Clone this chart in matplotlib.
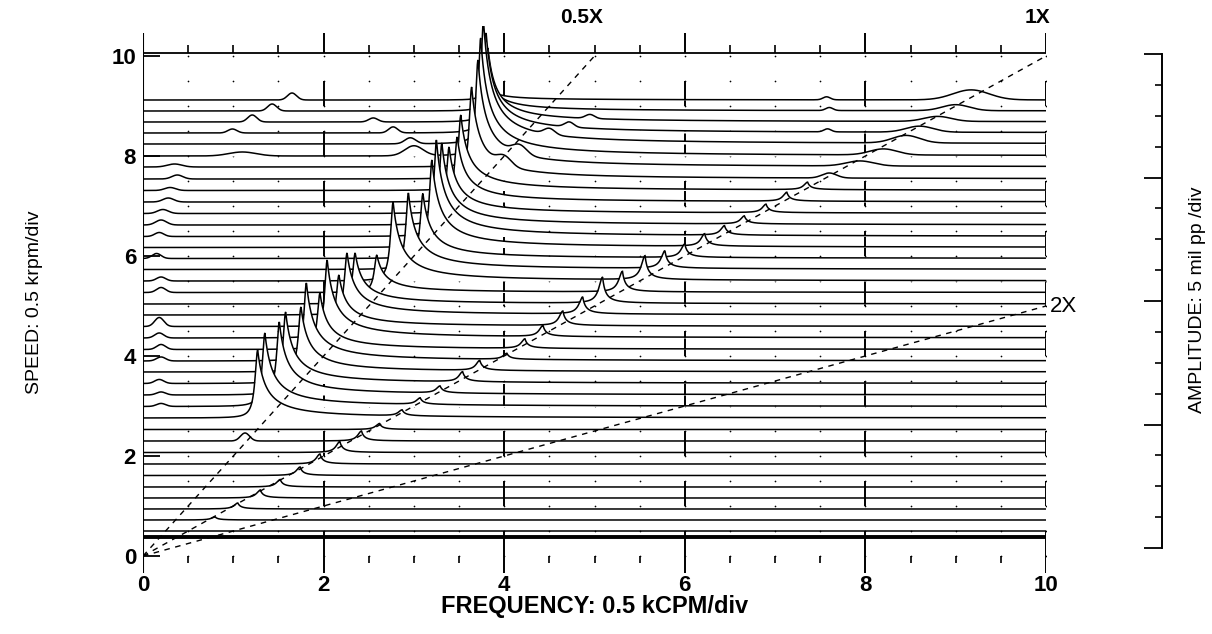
import numpy as np
import matplotlib
matplotlib.use("Agg")
import matplotlib.pyplot as plt

plt.rcParams['font.family'] = ['Liberation Sans', 'DejaVu Sans']

# Shaft speed of each spectrum (baseline position, 0.5 krpm/div units)
speeds = [0.38, 0.50, 0.72, 0.94, 1.16, 1.38, 1.61, 1.84, 2.07, 2.30,
          2.53, 2.76, 2.99, 3.22, 3.45, 3.68, 3.90, 4.13, 4.36, 4.59,
          4.82, 5.04, 5.27, 5.50, 5.73, 5.95, 6.17, 6.39, 6.62, 6.85,
          7.08, 7.31, 7.54, 7.78, 8.00, 8.24, 8.46, 8.68, 8.90, 9.12]

# Sub-synchronous (whirl/whip) component per spectrum
whirl_speed = [2.76, 2.99, 3.22, 3.45, 3.68, 3.90, 4.13, 4.36, 4.59, 4.82,
               5.04, 5.27, 5.50, 5.73, 5.95, 6.17, 6.39, 6.62, 6.85, 7.08,
               7.31, 7.54, 7.78, 8.00, 8.24, 8.46, 8.68, 8.90, 9.12]
whirl_freq = [1.27, 1.35, 1.51, 1.58, 1.75, 1.81, 1.96, 2.04, 2.17, 2.26,
              2.35, 2.59, 2.77, 2.94, 3.10, 3.20, 3.25, 3.31, 3.39, 3.48,
              3.52, 3.64, 3.71, 3.74, 3.77, 3.80, 3.82, 3.80, 3.78]
whirl_amp = [1.36, 1.47, 1.46, 1.43, 1.30, 1.56, 1.13, 1.56, 1.03, 1.24,
             1.02, 0.75, 1.58, 1.53, 1.30, 1.75, 1.93, 1.64, 1.33, 1.30,
             1.51, 1.84, 2.14, 2.36, 2.48, 2.00, 1.48, 0.86, 0.34]

# Synchronous (1X) component per spectrum
onex_speed = [0.72, 0.94, 1.16, 1.38, 1.61, 1.84, 2.07, 2.30, 2.53, 2.76,
              2.99, 3.22, 3.45, 3.68, 3.90, 4.13, 4.36, 4.59, 4.82, 5.04,
              5.27, 5.50, 5.73, 5.95, 6.17, 6.39, 6.62, 6.85, 7.08, 7.31,
              7.54, 7.78, 8.00, 8.24, 8.46, 8.68, 8.90, 9.12]
onex_freq = [0.80, 1.05, 1.30, 1.52, 1.74, 1.96, 2.18, 2.42, 2.62, 2.87,
             3.07, 3.29, 3.54, 3.73, 4.03, 4.23, 4.43, 4.65, 4.87, 5.09,
             5.31, 5.56, 5.78, 6.00, 6.22, 6.44, 6.66, 6.90, 7.13, 7.36,
             7.60, 7.94, 8.20, 8.45, 8.60, 8.80, 9.00, 9.17]
onex_amp = [0.06, 0.12, 0.16, 0.15, 0.17, 0.20, 0.22, 0.20, 0.12, 0.12,
            0.13, 0.14, 0.20, 0.20, 0.12, 0.19, 0.22, 0.29, 0.34, 0.52,
            0.41, 0.48, 0.35, 0.27, 0.25, 0.19, 0.16, 0.17, 0.18, 0.15,
            0.10, 0.10, 0.12, 0.15, 0.12, 0.10, 0.12, 0.20]
onex_width = [0.05, 0.05, 0.05, 0.05, 0.05, 0.05, 0.05, 0.05, 0.05, 0.05,
              0.05, 0.05, 0.05, 0.05, 0.05, 0.05, 0.05, 0.05, 0.05, 0.05,
              0.05, 0.05, 0.05, 0.05, 0.05, 0.05, 0.05, 0.05, 0.05, 0.05,
              0.08, 0.15, 0.15, 0.15, 0.15, 0.15, 0.15, 0.20]

# Other small spectral components
minor_speed = [9.12, 8.90, 8.68, 8.46, 8.68, 8.46, 8.24, 8.00,
               8.68, 8.46, 8.24, 7.78, 7.54, 9.12, 8.90, 8.46,
               8.00, 7.78, 7.54, 7.31, 7.08, 6.85, 6.62, 6.39, 5.95,
               5.50, 5.27, 4.59, 4.36, 4.13, 3.90, 3.45, 3.22, 2.99, 2.30]
minor_freq = [1.65, 1.43, 1.21, 0.99, 2.55, 2.77, 2.96, 3.00,
              4.95, 4.72, 4.50, 4.17, 4.00, 7.57, 7.60, 7.58,
              1.10, 0.35, 0.38, 0.30, 0.28, 0.22, 0.20, 0.18, 0.15,
              0.20, 0.20, 0.18, 0.18, 0.20, 0.20, 0.18, 0.20, 0.20, 1.13]
minor_amp = [0.14, 0.14, 0.14, 0.08, 0.08, 0.12, 0.12, 0.20,
             0.08, 0.10, 0.12, 0.18, 0.18, 0.06, 0.06, 0.06,
             0.08, 0.06, 0.08, 0.06, 0.08, 0.08, 0.10, 0.08, 0.10,
             0.08, 0.10, 0.18, 0.10, 0.10, 0.08, 0.08, 0.06, 0.06, 0.16]
minor_width = [0.05, 0.05, 0.05, 0.05, 0.05, 0.05, 0.06, 0.10,
               0.05, 0.05, 0.06, 0.08, 0.08, 0.04, 0.04, 0.04,
               0.15, 0.08, 0.06, 0.06, 0.06, 0.06, 0.06, 0.05, 0.05,
               0.05, 0.05, 0.05, 0.05, 0.05, 0.05, 0.05, 0.05, 0.05, 0.05]

freq = np.linspace(0.0, 10.05, 4021)


def peak(f0, a, wl, wr, p):
    d = freq - f0
    left = 1.0 / (1.0 + (d / wl) ** 2)
    right = (1.0 + np.abs(d) / wr) ** (-p)
    return a * np.where(d < 0, left, right)


def bump(f0, a, w):
    return a * np.exp(-0.5 * ((freq - f0) / w) ** 2)


def spectrum(s):
    y = np.zeros_like(freq)
    for sp, f, a in zip(whirl_speed, whirl_freq, whirl_amp):
        if abs(sp - s) < 1e-6:
            y += peak(f, a, 0.035, 0.11, 1.25)
    for sp, f, a, w in zip(onex_speed, onex_freq, onex_amp, onex_width):
        if abs(sp - s) < 1e-6:
            if w > 0.06:
                y += bump(f, a, w)
            else:
                y += peak(f, a, w, w, 1.6)
    for sp, f, a, w in zip(minor_speed, minor_freq, minor_amp, minor_width):
        if abs(sp - s) < 1e-6:
            y += bump(f, a, w)
    return y


W, H = 1212, 634
fig = plt.figure(figsize=(W / 100, H / 100), dpi=100)

# main cascade axes: x 0..10 -> px 143..1046 ; y 0 -> py 556, 50 px per unit
y_lo, y_hi = -0.35, 10.6
px_bot = 556 + 50 * (-y_lo)
px_top = 556 - 50 * y_hi
ax = fig.add_axes([143 / W, (H - px_bot) / H, 903 / W, (px_bot - px_top) / H])
ax.set_xlim(0, 10)
ax.set_ylim(y_lo, y_hi)
for sp in ax.spines.values():
    sp.set_visible(False)

# frame, ticks and grid marks
major_x = [2, 4, 6, 8, 10]
minor_x = [v * 0.5 for v in range(1, 21) if (v * 0.5) % 2 != 0]
ax.vlines(0, -0.34, 10.46, color='black', lw=1.5, zorder=300)
ax.hlines(10.06, 0, 10.05, color='black', lw=1.3, zorder=300)
ax.vlines(major_x, 10.06, 10.46, color='black', lw=1.4, zorder=300)
ax.vlines(minor_x, 10.06, 10.22, color='black', lw=1.2, zorder=300)
ax.vlines(major_x, -0.34, 0.0, color='black', lw=1.4, zorder=300)
ax.vlines(minor_x, -0.14, 0.0, color='black', lw=1.2, zorder=300)
ax.hlines([0, 2, 4, 6, 8, 10], 0, 0.19, color='black', lw=1.3, zorder=300)
for k in range(10):
    ax.vlines(major_x, k, k + 0.5, color='black', lw=1.4, zorder=1)
gx, gy = np.meshgrid(np.arange(0.5, 10.01, 0.5), np.arange(0, 10.01, 0.5))
ax.scatter(gx.ravel(), gy.ravel(), s=1.5, color='black', lw=0, zorder=1)

# spectra, back (highest speed) to front
order = sorted(range(len(speeds)), key=lambda i: -speeds[i])
for rank, i in enumerate(order):
    s = speeds[i]
    y = s + spectrum(s)
    z = 10 + rank
    ax.fill_between(freq, s, y, color='white', lw=0, zorder=z)
    lw = 2.8 if i == 0 else 1.1
    ax.plot(freq, y, color='black', lw=lw, zorder=z + 0.5, solid_joinstyle='miter')

# order lines
dash = (0, (4, 4))
ax.plot([0, 5], [0, 10], color='black', lw=1.0, ls=dash, zorder=250)
ax.plot([0, 10], [0, 10], color='black', lw=1.0, ls=dash, zorder=250)
ax.plot([0, 10], [0, 5], color='black', lw=1.0, ls=dash, zorder=250)
ax.text(4.86, 10.76, '0.5X', ha='center', va='center', fontsize=15,
        fontweight='bold', clip_on=False)
ax.text(9.91, 10.76, '1X', ha='center', va='center', fontsize=15,
        fontweight='bold', clip_on=False)
ax.text(10.04, 4.98, '2X', ha='left', va='center', fontsize=16,
        clip_on=False, zorder=400)

ax.set_xticks([0, 2, 4, 6, 8, 10])
ax.set_yticks([0, 2, 4, 6, 8, 10])
ax.tick_params(axis='both', length=0, labelsize=16)
ax.tick_params(axis='x', pad=1)
ax.tick_params(axis='y', pad=5)
for lab in ax.get_xticklabels() + ax.get_yticklabels():
    lab.set_fontweight('bold')

fig.text(595 / W, 1 - 606 / H, 'FREQUENCY: 0.5 kCPM/div', ha='center',
         va='center', fontsize=17, fontweight='bold')
fig.text(35 / W, 1 - 302 / H, 'SPEED: 0.5 krpm/div', rotation=90,
         ha='center', va='center', fontsize=14)
fig.text(1197 / W, 1 - 300 / H, 'AMPLITUDE: 5 mil pp /div', rotation=90,
         ha='center', va='center', fontsize=14)

# amplitude scale bar
ax2 = fig.add_axes([1140 / W, (H - 548) / H, 22 / W, 494 / H])
ax2.set_xlim(0, 1)
ax2.set_ylim(0, 16)
for name, sp in ax2.spines.items():
    sp.set_visible(name == 'right')
ax2.spines['right'].set_linewidth(1.4)
ax2.set_xticks([])
ax2.yaxis.tick_right()
ax2.set_yticks([0, 4, 8, 12, 16])
ax2.set_yticks(range(17), minor=True)
ax2.tick_params(axis='y', which='major', direction='in', length=13, width=1.3,
                labelright=False)
ax2.tick_params(axis='y', which='minor', direction='in', length=5, width=1.2)
ax2.patch.set_alpha(0)

fig.savefig('out.png', dpi=100)
